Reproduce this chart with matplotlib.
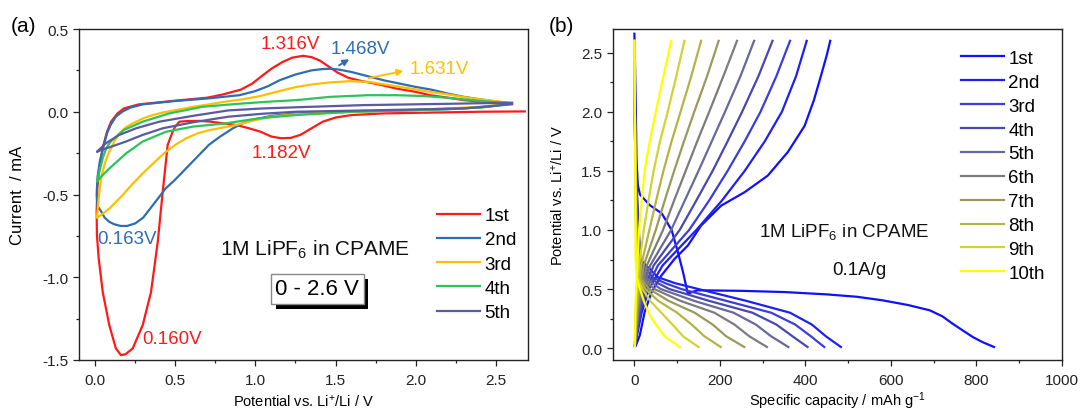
import matplotlib
matplotlib.use("Agg")
import matplotlib.pyplot as plt
import matplotlib.patheffects as pe
from matplotlib.ticker import MultipleLocator

plt.rcParams['font.family'] = ['Liberation Sans', 'DejaVu Sans']
plt.rcParams['mathtext.fontset'] = 'custom'
plt.rcParams['mathtext.rm'] = 'Liberation Sans'
plt.rcParams['mathtext.it'] = 'Liberation Sans:italic'
plt.rcParams['axes.unicode_minus'] = False

# ---------------- (a) cyclic voltammetry, (V, mA)
cv_1st = [(2.68, 0.002), (2.4, 0.0), (2.1, -0.005), (1.8, -0.01), (1.6, -0.02), (1.5, -0.035),
          (1.42, -0.06), (1.35, -0.1), (1.28, -0.14), (1.22, -0.158), (1.16, -0.16), (1.1, -0.15),
          (1.03, -0.12), (0.96, -0.1), (0.88, -0.08), (0.8, -0.07), (0.72, -0.06), (0.65, -0.055),
          (0.58, -0.056), (0.526, -0.06), (0.5, -0.09), (0.484, -0.121), (0.453, -0.2), (0.422, -0.484),
          (0.391, -0.787), (0.349, -1.09), (0.297, -1.29), (0.235, -1.43), (0.19, -1.465), (0.162, -1.471),
          (0.13, -1.43), (0.089, -1.29), (0.048, -1.09), (0.023, -0.887), (0.012, -0.75), (0.01, -0.6),
          (0.015, -0.45), (0.03, -0.32), (0.05, -0.21), (0.075, -0.12), (0.1, -0.06), (0.14, -0.01),
          (0.18, 0.02), (0.27, 0.044), (0.48, 0.065), (0.7, 0.085), (0.8, 0.105), (0.91, 0.134),
          (0.98, 0.17), (1.04, 0.216), (1.1, 0.26), (1.168, 0.3), (1.23, 0.327), (1.297, 0.338),
          (1.35, 0.33), (1.4, 0.31), (1.45, 0.278), (1.51, 0.238), (1.58, 0.205), (1.66, 0.186),
          (1.77, 0.165), (1.88, 0.14), (2.0, 0.12), (2.09, 0.1), (2.2, 0.085), (2.3, 0.07),
          (2.4, 0.062), (2.5, 0.055), (2.6, 0.05)]

cv_2nd = [(2.6, 0.05), (2.45, 0.03), (2.2, 0.015), (1.9, 0.008), (1.6, 0.0), (1.4, -0.005),
          (1.25, -0.01), (1.1, -0.025), (1.0, -0.045), (0.92, -0.07), (0.86, -0.1), (0.78, -0.15),
          (0.71, -0.2), (0.64, -0.27), (0.57, -0.34), (0.5, -0.41), (0.44, -0.464), (0.36, -0.565),
          (0.3, -0.64), (0.25, -0.675), (0.2, -0.69), (0.16, -0.69), (0.12, -0.68), (0.089, -0.665),
          (0.06, -0.64), (0.037, -0.6), (0.015, -0.57), (0.01, -0.5), (0.015, -0.4), (0.03, -0.3),
          (0.055, -0.2), (0.075, -0.13), (0.097, -0.08), (0.13, -0.03), (0.17, 0.0), (0.22, 0.025),
          (0.3, 0.045), (0.5, 0.065), (0.7, 0.08), (0.9, 0.1), (1.0, 0.125), (1.08, 0.155),
          (1.15, 0.19), (1.25, 0.225), (1.35, 0.25), (1.42, 0.258), (1.468, 0.26), (1.52, 0.255),
          (1.6, 0.24), (1.7, 0.215), (1.8, 0.19), (1.9, 0.17), (2.0, 0.15), (2.1, 0.133),
          (2.2, 0.11), (2.3, 0.09), (2.4, 0.075), (2.5, 0.062), (2.6, 0.05)]

cv_3rd = [(2.6, 0.05), (2.4, 0.03), (2.1, 0.015), (1.8, 0.005), (1.5, -0.005), (1.25, -0.015),
          (1.1, -0.03), (0.98, -0.055), (0.88, -0.08), (0.8, -0.095), (0.713, -0.111), (0.64, -0.13),
          (0.567, -0.161), (0.5, -0.2), (0.442, -0.242), (0.37, -0.305), (0.297, -0.373), (0.23, -0.44),
          (0.172, -0.504), (0.12, -0.555), (0.089, -0.585), (0.05, -0.615), (0.012, -0.641),
          (0.02, -0.55), (0.03, -0.46), (0.042, -0.383), (0.065, -0.3), (0.089, -0.242), (0.12, -0.18),
          (0.151, -0.131), (0.19, -0.095), (0.235, -0.07), (0.3, -0.04), (0.36, -0.02), (0.43, -0.003),
          (0.505, 0.01), (0.6, 0.028), (0.713, 0.045), (0.82, 0.062), (0.92, 0.075), (1.03, 0.095),
          (1.15, 0.125), (1.257, 0.15), (1.36, 0.166), (1.465, 0.177), (1.59, 0.185), (1.71, 0.18),
          (1.87, 0.155), (2.0, 0.135), (2.09, 0.12), (2.2, 0.105), (2.29, 0.09), (2.4, 0.075),
          (2.5, 0.064), (2.6, 0.05)]

cv_4th = [(2.6, 0.05), (2.4, 0.025), (2.0, 0.01), (1.6, 0.0), (1.253, -0.02), (1.02, -0.04),
          (0.816, -0.07), (0.609, -0.09), (0.442, -0.121), (0.297, -0.18), (0.193, -0.252),
          (0.089, -0.343), (0.04, -0.39), (0.012, -0.423), (0.03, -0.35), (0.048, -0.28),
          (0.07, -0.22), (0.097, -0.18), (0.18, -0.11), (0.297, -0.06), (0.463, -0.01),
          (0.671, 0.03), (0.842, 0.044), (0.92, 0.05), (1.1, 0.062), (1.253, 0.07), (1.465, 0.09),
          (1.7, 0.1), (1.88, 0.1), (2.05, 0.095), (2.19, 0.085), (2.35, 0.07), (2.5, 0.058),
          (2.6, 0.05)]

cv_5th = [(2.6, 0.045), (2.3, 0.02), (1.8, 0.01), (1.253, 0.0), (1.045, -0.012), (0.83, -0.03),
          (0.609, -0.064), (0.422, -0.1), (0.297, -0.14), (0.193, -0.18), (0.089, -0.215),
          (0.04, -0.23), (0.012, -0.242), (0.03, -0.225), (0.068, -0.19), (0.151, -0.14),
          (0.256, -0.1), (0.401, -0.06), (0.609, -0.025), (0.83, 0.008), (1.045, 0.02),
          (1.253, 0.027), (1.67, 0.04), (2.2, 0.048), (2.6, 0.055)]

cv_labels = ['1st', '2nd', '3rd', '4th', '5th']
cv_colors = ['#ff1a1a', '#2f6db3', '#ffbf00', '#2cc35a', '#5a5aa0']

# ---------------- (b) galvanostatic curves, capacity (mAh/g) vs potential (V)
dis1_cap = [0, 1, 3, 5, 8, 13, 36, 64, 87, 102, 114, 125, 135, 148, 250, 350, 450, 520, 580,
            640, 691, 720, 745, 770, 792, 815, 841]
dis1_v = [2.66, 2.5, 2.1, 1.6, 1.38, 1.3, 1.21, 1.14, 1.0, 0.81, 0.64, 0.46, 0.475, 0.49, 0.485,
          0.475, 0.455, 0.435, 0.405, 0.365, 0.32, 0.27, 0.205, 0.145, 0.093, 0.05, 0.01]
chg1_cap = [3, 12.5, 24, 40, 63, 94, 125, 156, 203, 258, 312, 359, 398, 420, 436, 450, 458]
chg1_v = [0.02, 0.107, 0.305, 0.474, 0.614, 0.755, 0.868, 1.037, 1.206, 1.32, 1.46, 1.66, 1.88,
          2.1, 2.3, 2.48, 2.6]

# cycles 2-10: capacity read at fixed potential levels
dis_levels = [2.6, 1.6, 0.75, 0.6, 0.55, 0.5, 0.4, 0.3, 0.2, 0.1, 0.01]
dis_caps = [
    [0, 2, 14, 55, 95, 150, 262, 364, 415, 448, 483],
    [0, 2, 12, 42, 72, 110, 215, 320, 376, 413, 444],
    [0, 2, 10, 33, 55, 82, 175, 276, 332, 370, 405],
    [0, 2, 8, 26, 42, 62, 140, 232, 284, 320, 360],
    [0, 2, 7, 20, 32, 47, 108, 187, 234, 269, 310],
    [0, 2, 6, 15, 24, 35, 80, 141, 183, 215, 257],
    [0, 2, 5, 11, 18, 26, 56, 100, 134, 164, 202],
    [0, 2, 4, 8, 13, 19, 37, 63, 89, 114, 150],
    [0, 2, 3, 6, 9, 13, 22, 33, 50, 71, 106],
]
chg_levels = [0.02, 0.3, 0.5, 0.7, 1.0, 1.25, 1.5, 1.75, 2.0, 2.3, 2.6]
chg_caps = [
    [1, 17, 34, 66, 145, 205, 258, 305, 345, 378, 403],
    [1, 14, 28, 55, 128, 175, 218, 258, 295, 332, 364],
    [1, 12, 23, 45, 106, 145, 183, 218, 252, 290, 323],
    [1, 10, 19, 37, 86, 118, 150, 181, 212, 248, 280],
    [1, 8, 15, 29, 67, 93, 120, 147, 175, 208, 240],
    [1, 6, 12, 22, 50, 71, 93, 116, 140, 170, 197],
    [1, 5, 9, 16, 35, 51, 68, 87, 108, 133, 156],
    [1, 3, 6, 11, 22, 33, 45, 60, 78, 98, 117],
    [1, 2, 4, 7, 11, 17, 24, 36, 50, 68, 86],
]
gc_labels = ['1st', '2nd', '3rd', '4th', '5th', '6th', '7th', '8th', '9th', '10th']
gc_colors = ['#1010ff', '#2020ee', '#3c3cdc', '#4848b0', '#68689a', '#7c7c7c', '#9a9a5c',
             '#b4b444', '#d2d230', '#ffff00']

fig = plt.figure(figsize=(10.8, 4.1), dpi=100)
ax1 = fig.add_axes([79 / 1080, 49 / 410, 449 / 1080, 331 / 410])
ax2 = fig.add_axes([613 / 1080, 49 / 410, 449 / 1080, 331 / 410])

for ax in (ax1, ax2):
    for s in ax.spines.values():
        s.set_color('#222222')
        s.set_linewidth(1.0)
    ax.tick_params(which='major', direction='out', length=4.3, width=0.9, labelsize=11,
                   colors='#222222', pad=3.5)
    ax.tick_params(which='minor', direction='out', length=2.2, width=0.9, colors='#222222')
    ax.tick_params(axis='x', which='major', pad=5)

# panel (a)
for pts, lab, col in zip([cv_1st, cv_2nd, cv_3rd, cv_4th, cv_5th], cv_labels, cv_colors):
    v, i = zip(*pts)
    ax1.plot(v, i, color=col, lw=1.6, label=lab, solid_joinstyle='round')

ax1.set_xlim(-0.1, 2.7)
ax1.set_ylim(-1.5, 0.5)
ax1.xaxis.set_major_locator(MultipleLocator(0.5))
ax1.xaxis.set_minor_locator(MultipleLocator(0.25))
ax1.yaxis.set_major_locator(MultipleLocator(0.5))
ax1.yaxis.set_minor_locator(MultipleLocator(0.25))
ax1.set_xlabel(r'Potential vs. Li$^{+}$/Li / V', fontsize=10.5)
ax1.set_ylabel('Current  / mA', fontsize=12)
ax1.xaxis.set_label_coords(0.5, -0.1)
ax1.yaxis.set_label_coords(-0.12, 0.5)

ax1.legend(loc='upper left', bbox_to_anchor=(0.797, 0.462), frameon=False, fontsize=13.5,
           handlelength=2.3, handletextpad=0.25, labelspacing=0.38, borderpad=0,
           borderaxespad=0)

red, blue, yel = cv_colors[0], cv_colors[1], '#ffc000'
ax1.text(1.216, 0.413, '1.316V', color=red, fontsize=13.5, ha='center', va='center')
ax1.text(1.657, 0.383, '1.468V', color=blue, fontsize=13.5, ha='center', va='center')
ax1.text(2.15, 0.262, '1.631V', color=yel, fontsize=13.5, ha='center', va='center')
ax1.text(1.163, -0.245, '1.182V', color=red, fontsize=13.5, ha='center', va='center')
ax1.text(0.2, -0.766, '0.163V', color=blue, fontsize=13.5, ha='center', va='center')
ax1.text(0.478, -1.371, '0.160V', color=red, fontsize=13.5, ha='center', va='center')
ax1.annotate('', xy=(1.6, 0.326), xytext=(1.507, 0.272),
             arrowprops=dict(arrowstyle='-|>', color=blue, lw=1.4, mutation_scale=9))
ax1.annotate('', xy=(1.94, 0.25), xytext=(1.69, 0.20),
             arrowprops=dict(arrowstyle='-|>', color=yel, lw=1.4, mutation_scale=9))

ax1.text(1.37, -0.826, r'1M LiPF$_6$ in CPAME', fontsize=15, ha='center', va='center',
         color='#111111')
box = ax1.text(1.385, -1.07, '0 - 2.6 V', fontsize=16, ha='center', va='center', color='black',
               zorder=5, bbox=dict(boxstyle='square,pad=0.2', fc='white', ec='#888888', lw=1))
box.get_bbox_patch().set_path_effects(
    [pe.SimplePatchShadow(offset=(3.5, -3.5), shadow_rgbFace='black', alpha=1.0), pe.Normal()])

fig.text(23 / 1080, 1 - 26 / 410, '(a)', fontsize=15, ha='center', va='center')
fig.text(561 / 1080, 1 - 26 / 410, '(b)', fontsize=15, ha='center', va='center')

# panel (b)
ax2.plot(dis1_cap, dis1_v, color=gc_colors[0], lw=1.6, label=gc_labels[0])
ax2.plot(chg1_cap, chg1_v, color=gc_colors[0], lw=1.6)
for k in range(9):
    col = gc_colors[k + 1]
    ax2.plot(dis_caps[k], dis_levels, color=col, lw=1.6, label=gc_labels[k + 1])
    ax2.plot(chg_caps[k], chg_levels, color=col, lw=1.6)

ax2.set_xlim(-50, 1000)
ax2.set_ylim(-0.1, 2.7)
ax2.xaxis.set_major_locator(MultipleLocator(200))
ax2.xaxis.set_minor_locator(MultipleLocator(100))
ax2.yaxis.set_major_locator(MultipleLocator(0.5))
ax2.yaxis.set_minor_locator(MultipleLocator(0.25))
ax2.set_xlabel(r'Specific capacity / mAh g$^{-1}$', fontsize=10.5)
ax2.set_ylabel(r'Potential vs. Li$^{+}$/Li / V', fontsize=10.5)
ax2.xaxis.set_label_coords(0.5, -0.088)
ax2.yaxis.set_label_coords(-0.105, 0.5)

ax2.legend(loc='upper left', bbox_to_anchor=(0.774, 0.937), frameon=False, fontsize=13.5,
           handlelength=2.3, handletextpad=0.25, labelspacing=0.36, borderpad=0, borderaxespad=0)

ax2.text(492, 0.988, r'1M LiPF$_6$ in CPAME', fontsize=13.5, ha='center', va='center',
         color='#111111')
ax2.text(525, 0.667, '0.1A/g', fontsize=13.5, ha='center', va='center', color='#111111')

fig.savefig('out.png', dpi=100)
